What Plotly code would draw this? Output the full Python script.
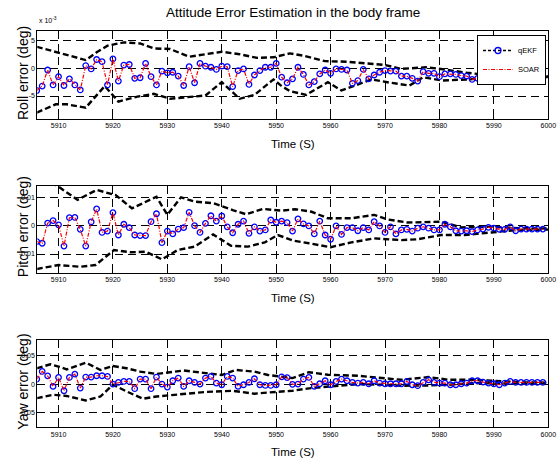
import plotly.graph_objects as go
from plotly.subplots import make_subplots

FONT = "Liberation Sans, Arial, sans-serif"

# ---------------- data ----------------
t = list(range(5906, 6000))

# Roll error in units of 1e-3 deg (axis shows "x 10^-3")
roll_qekf = [-4.0, -3.2, -0.3, -3.0, -1.5, -3.1, -1.9, -3.0, -3.9, 0.5,
             -0.1, 1.6, 1.2, -3.0, 1.7, -2.3, 0.6, 0.7, -1.8, -1.7,
             0.9, -1.5, -3.0, -0.5, -0.8, -0.7, -1.4, -3.1, 0.3, -2.6,
             0.9, 0.4, 0.2, -0.2, 0.4, 0.3, -3.3, -0.4, -0.1, -2.9,
             -1.2, -0.4, 0.2, 0.2, 0.9, -1.6, -2.6, -1.9, 0.2, -1.1,
             -3.0, -2.4, -1.0, -0.3, -0.9, -0.1, -0.2, -0.3, -2.7, -2.2,
             -0.2, -1.9, -1.2, -0.7, -0.4, -0.5, -0.5, -1.4, -1.4, -1.8,
             -2.3, -0.6, -0.9, -0.9, -1.5, -1.0, -1.0, -1.1, -1.3, -1.4,
             -2.0, -1.8, -1.4, -1.2, -1.5, -1.5, -1.4, -1.5, -1.5, -1.4,
             -1.5, -1.5, -1.5, -1.5]
roll_soar = list(roll_qekf)

roll_up_t = [5906, 5911, 5915, 5917, 5919, 5922, 5925, 5927.5, 5930.5, 5934, 5937.5, 5940,
             5943, 5946.5, 5949.5, 5952.5, 5955, 5959, 5963, 5967, 5970, 5973, 5977.5,
             5981, 5985, 5989, 5992, 6000]
roll_up = [3.9, 2.6, 1.5, 2.9, 4.1, 4.7, 4.5, 3.6, 3.5, 2.1, 2.7, 3.0,
           2.6, 1.9, 2.0, 2.7, 2.3, 1.3, 1.2, 0.8, 0.6, -0.1, 0.2,
           -0.2, -0.8, -1.2, -1.4, -1.45]
roll_lo_t = [5906, 5909.5, 5911.5, 5915, 5918.5, 5921, 5924.5, 5927.5, 5930.5, 5934, 5937,
             5940, 5943.3, 5946, 5949.5, 5951, 5952.5, 5955.5, 5959.5, 5962, 5967.5, 5971,
             5974.5, 5977, 5980.5, 5985, 5989, 5992, 6000]
roll_lo = [-8.0, -6.5, -6.5, -7.1, -3.2, -6.0, -5.1, -4.6, -5.5, -5.2, -4.9,
           -2.5, -5.5, -4.8, -2.0, -3.2, -4.1, -4.8, -2.5, -4.0, -2.0, -2.6,
           -3.1, -1.6, -2.2, -2.0, -1.7, -1.6, -1.55]

# Pitch error (deg)
pitch_qekf = [-0.0056, -0.0062, 0.0009, 0.0018, 0.0003, -0.0072, 0.0028, 0.0029, -0.0013, -0.0072,
              0.0013, 0.0059, -0.0024, -0.0019, 0.0046, -0.0033, 0.0005, -0.0007, -0.0033, -0.0035,
              -0.0035, 0.0014, 0.0042, -0.0060, -0.0019, -0.0029, -0.0012, -0.0007, 0.0047, 0.0000,
              -0.0024, 0.0008, 0.0035, 0.0016, 0.0034, -0.0004, -0.0025, 0.0005, 0.0016, -0.0027,
              -0.0004, -0.0019, -0.0015, 0.0020, 0.0012, 0.0016, 0.0011, -0.0019, 0.0024, 0.0006,
              -0.0001, -0.0029, 0.0016, -0.0033, -0.0048, -0.0001, -0.0031, -0.0007, -0.0007, -0.0018,
              -0.0007, -0.0015, 0.0014, -0.0001, -0.0024, -0.0004, -0.0029, -0.0015, -0.0013, -0.0019,
              -0.0009, -0.0004, -0.0009, -0.0015, -0.0015, 0.0005, -0.0004, -0.0018, -0.0019, -0.0018,
              -0.0021, -0.0015, -0.0012, -0.0006, -0.0009, -0.0013, -0.0013, -0.0004, -0.0018, -0.0012,
              -0.0012, -0.0012, -0.0012, -0.0012]
pitch_soar = list(pitch_qekf)

pitch_up_t = [5906, 5909.5, 5913.5, 5917, 5920.5, 5923.5, 5928, 5930, 5932.5, 5935, 5938.5,
              5942, 5944.5, 5947.5, 5951, 5953.5, 5956.5, 5959.5, 5963.8, 5968, 5970.5,
              5974.2, 5980.3, 5984, 5989.5, 5994.5, 6000]
pitch_up = [0.019, 0.0145, 0.0091, 0.0126, 0.0108, 0.0061, 0.0102, 0.0038, 0.0100, 0.0085, 0.0079,
            0.0055, 0.0040, 0.0059, 0.0053, 0.0058, 0.0049, 0.0026, 0.0026, 0.0038, 0.0022,
            0.0011, 0.0014, -0.0006, -0.0004, -0.0009, -0.0010]
pitch_lo_t = [5906, 5910, 5914, 5916.8, 5920.2, 5923.2, 5926, 5929, 5931.9, 5935, 5938.4,
              5941.7, 5944.8, 5947.9, 5950.3, 5953.2, 5956, 5960, 5963.8, 5968, 5973, 5976,
              5980.3, 5984.6, 5989.5, 5994.5, 6000]
pitch_lo = [-0.0153, -0.0139, -0.0145, -0.0139, -0.0086, -0.0094, -0.0092, -0.0119, -0.0086, -0.0074, -0.0031,
            -0.0071, -0.0074, -0.0059, -0.0033, -0.0053, -0.0062, -0.0076, -0.0059, -0.0045, -0.0051, -0.0048,
            -0.0033, -0.0033, -0.0024, -0.0015, -0.0014]

# Yaw error (deg)
yaw_qekf = [0.0088, 0.0224, 0.0145, -0.0041, 0.0118, -0.0118, 0.0118, 0.0176, -0.0071, 0.0124,
            0.0124, 0.0147, 0.0147, 0.0135, 0.0000, 0.0029, 0.0047, 0.0047, -0.0082, 0.0088,
            0.0088, -0.0082, 0.0124, 0.0000, -0.0053, 0.0059, 0.0106, -0.0041, 0.0059, 0.0029,
            0.0000, 0.0106, 0.0135, 0.0018, -0.0012, 0.0135, 0.0106, -0.0041, -0.0012, 0.0029,
            0.0094, -0.0012, -0.0024, -0.0024, -0.0012, 0.0129, 0.0115, -0.0005, 0.0000, 0.0088,
            0.0118, -0.0041, 0.0006, 0.0059, -0.0012, 0.0047, 0.0088, 0.0059, 0.0029, 0.0018,
            0.0029, 0.0006, 0.0059, 0.0018, 0.0006, 0.0006, 0.0006, 0.0006, 0.0047, -0.0012,
            -0.0029, 0.0029, 0.0076, 0.0029, 0.0018, 0.0018, -0.0012, -0.0012, 0.0006, 0.0018,
            0.0059, 0.0059, 0.0035, 0.0018, 0.0006, -0.0012, 0.0018, 0.0047, 0.0029, 0.0029,
            0.0029, 0.0029, 0.0029, 0.0029]
yaw_soar = list(yaw_qekf)

yaw_up_t = [5906, 5908.5, 5910, 5911.5, 5915, 5917.7, 5920, 5922.5, 5925, 5928, 5933, 5936,
            5940, 5942.5, 5946, 5948.5, 5953, 5956, 5959.5, 5965, 5969.3, 5973, 5978, 5981.7,
            5986, 5991, 5996, 6000]
yaw_up = [0.028, 0.035, 0.031, 0.026, 0.038, 0.025, 0.032, 0.028, 0.022, 0.018, 0.024, 0.021,
          0.016, 0.025, 0.022, 0.016, 0.0106, 0.021, 0.0165, 0.0147, 0.0106, 0.0076, 0.0124, 0.0076,
          0.0076, 0.0047, 0.0030, 0.0025]
yaw_lo_t = [5906, 5909, 5911.5, 5915, 5917.7, 5920, 5922.5, 5925.5, 5928, 5933, 5937, 5942,
            5946, 5948.5, 5953, 5956.4, 5960, 5965, 5969, 5973, 5978, 5981.7, 5986, 5991, 5996, 6000]
yaw_lo = [-0.025, -0.019, -0.021, -0.029, -0.022, -0.001, -0.013, -0.026, -0.022, -0.018, -0.014, -0.012,
          -0.017, -0.015, -0.0118, -0.0071, -0.0041, 0.0, -0.001, -0.0029, -0.0024, -0.0012, 0.0018, 0.0006,
          0.0006, 0.0010]

x_ticks = [5910, 5920, 5930, 5940, 5950, 5960, 5970, 5980, 5990, 6000]
y_ticks = [[-5, 0, 5], [-0.01, 0, 0.01], [-0.05, 0, 0.05]]
y_ticktext = [["-5", "0", "5"], ["-0.01", "0", "0.01"], ["-0.05", "0", "0.05"]]
y_ranges = [[-9.1, 6.7], [-0.0166, 0.0141], [-0.0765, 0.078]]
y_titles = ["Roll error (deg)", "Pitch error (deg)", "Yaw error (deg)"]
title_text = "Attitude Error Estimation in the body frame"
x_title = "Time (S)"

panels = [
    (roll_qekf, roll_soar, roll_up_t, roll_up, roll_lo_t, roll_lo),
    (pitch_qekf, pitch_soar, pitch_up_t, pitch_up, pitch_lo_t, pitch_lo),
    (yaw_qekf, yaw_soar, yaw_up_t, yaw_up, yaw_lo_t, yaw_lo),
]

# ---------------- layout geometry (pixels) ----------------
W, H = 560, 470
x_left, x_right = 37.3, 548.3
panel_px = [(31.3, 118.7), (185.7, 272.7), (340.0, 427.3)]

fig = make_subplots(rows=3, cols=1)

bound_style = dict(color="black", width=2.4, dash="6px,3px")
for i, (q, s, ut, u, lt, lo) in enumerate(panels):
    r = i + 1
    fig.add_trace(go.Scatter(x=ut, y=u, mode="lines", line=bound_style,
                             showlegend=False, hoverinfo="skip"), row=r, col=1)
    fig.add_trace(go.Scatter(x=lt, y=lo, mode="lines", line=bound_style,
                             showlegend=False, hoverinfo="skip"), row=r, col=1)
    fig.add_trace(go.Scatter(x=t, y=q, mode="markers", name="qEKF",
                             marker=dict(symbol="circle-open", size=5.5, color="#0000ff",
                                         line=dict(width=1.3, color="#0000ff")),
                             showlegend=False), row=r, col=1)
    fig.add_trace(go.Scatter(x=t, y=s, mode="lines", name="SOAR",
                             line=dict(color="#ff0000", width=1.2, dash="4px,1.5px,1px,1.5px"),
                             showlegend=(i == 0), legendrank=2), row=r, col=1)

# legend entry for qEKF as drawn in the reference (black dashed line with blue circle)
fig.add_trace(go.Scatter(x=[None], y=[None], mode="lines+markers", name="qEKF",
                         line=dict(color="black", width=1.6, dash="3px,2px"),
                         marker=dict(symbol="circle-open", size=6, color="#0000ff",
                                     line=dict(width=1.3, color="#0000ff")),
                         legendrank=1), row=1, col=1)

axis_common = dict(showline=True, linecolor="black", linewidth=1, mirror="allticks",
                   ticks="inside", ticklen=3, tickcolor="black",
                   showgrid=True, gridcolor="black", gridwidth=0.8, griddash="8px,5px",
                   zeroline=False, automargin=False,
                   tickfont=dict(family=FONT, size=7, color="black"))

for i in range(3):
    top, bot = panel_px[i]
    xa = "xaxis" if i == 0 else f"xaxis{i+1}"
    ya = "yaxis" if i == 0 else f"yaxis{i+1}"
    fig.layout[xa].update(domain=[x_left / W, x_right / W], range=[5906.1, 6000],
                          tickvals=x_ticks, **axis_common)
    fig.layout[ya].update(domain=[1 - bot / H, 1 - top / H], range=y_ranges[i],
                          tickvals=y_ticks[i], ticktext=y_ticktext[i], **axis_common)

annotations = []
annotations.append(dict(text=title_text, x=293 / W, y=1 - 12 / H, xref="paper", yref="paper",
                        showarrow=False, font=dict(family=FONT, size=13.5, color="black"),
                        xanchor="center", yanchor="middle"))
for i in range(3):
    top, bot = panel_px[i]
    annotations.append(dict(text=y_titles[i], x=23 / W, y=1 - ((top + bot) / 2 - 2) / H,
                            xref="paper", yref="paper", showarrow=False, textangle=-90,
                            font=dict(family=FONT, size=14, color="black"),
                            xanchor="center", yanchor="middle"))
    annotations.append(dict(text=x_title, x=293 / W, y=1 - (bot + 25) / H,
                            xref="paper", yref="paper", showarrow=False,
                            font=dict(family=FONT, size=11.5, color="black"),
                            xanchor="center", yanchor="middle"))
annotations.append(dict(text="x 10<sup>-3</sup>", x=37 / W, y=1 - 20 / H, xref="paper", yref="paper",
                        showarrow=False, font=dict(family=FONT, size=7, color="black"),
                        xanchor="left", yanchor="middle"))

fig.update_layout(
    width=W, height=H,
    margin=dict(l=0, r=0, t=0, b=0, pad=0),
    paper_bgcolor="white", plot_bgcolor="white",
    annotations=annotations,
    showlegend=True,
    hovermode=False,
    legend=dict(x=546 / W, y=1 - 35 / H, xanchor="right", yanchor="top",
                bgcolor="white", bordercolor="black", borderwidth=1,
                font=dict(family=FONT, size=7.5, color="black"),
                itemwidth=30, tracegroupgap=0),
    font=dict(family=FONT),
)

fig.write_html("out.html", config={"displayModeBar": False},
               post_script="document.body.style.margin='0';document.body.style.padding='0';")
